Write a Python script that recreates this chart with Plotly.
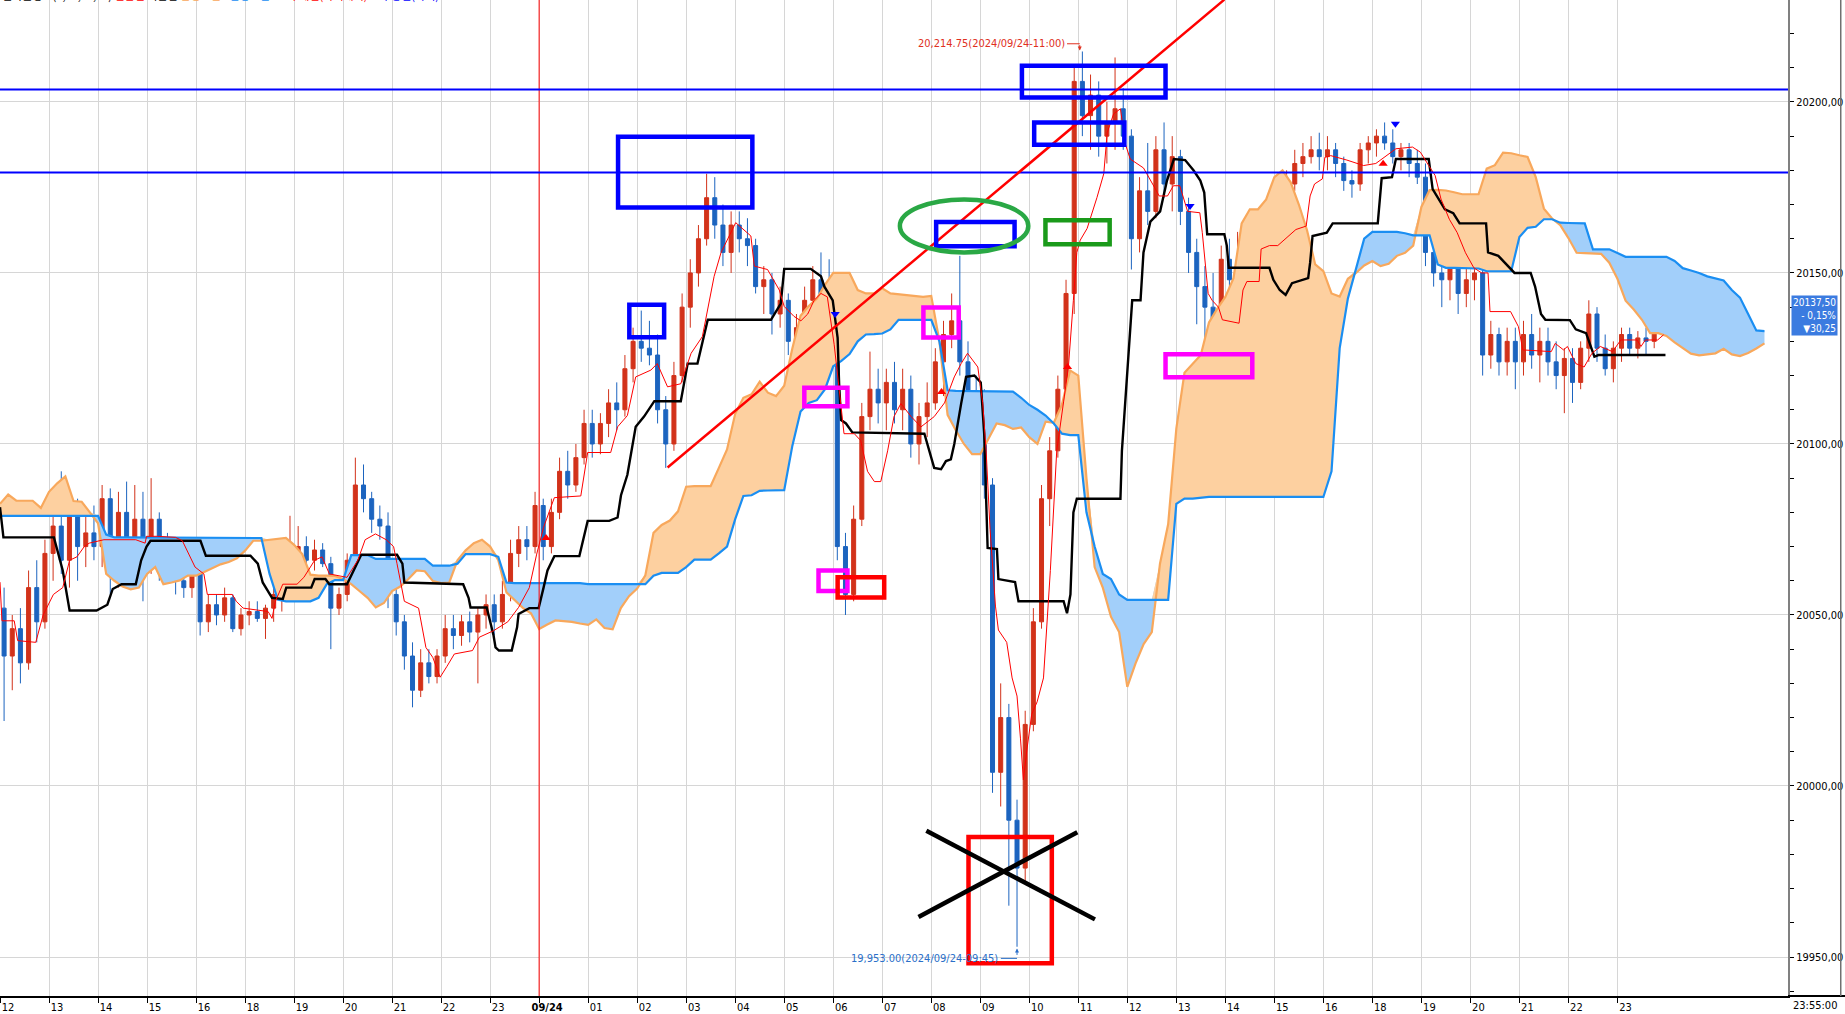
import numpy as np
import plotly.graph_objects as go

# 10-minute candles, 09/23 12:00 -> 09/24 23:50 (the 17:00 hour is closed)
opens = [
    20052, 20038, 20046, 20036, 20058, 20048,
    20068, 20076, 20066, 20080, 20070, 20074,
    20070, 20084, 20062, 20080, 20070, 20078,
    20064, 20078, 20066, 20062, 20060, 20058,
    20062, 20048, 20053, 20050, 20055, 20046,
    20050, 20051, 20049, 20052, 20056, 20062,
    20068, 20070, 20066, 20069, 20065, 20052,
    20056, 20066, 20088, 20084, 20078, 20076,
    20056, 20048, 20038, 20028, 20036, 20032,
    20038, 20046, 20044, 20048, 20045, 20050,
    20053, 20048, 20056, 20068, 20072, 20070,
    20082, 20070, 20080, 20092, 20088, 20096,
    20106, 20100, 20106, 20112, 20110, 20122,
    20130, 20128, 20126, 20110, 20100, 20120,
    20140, 20150, 20160, 20172, 20164, 20156,
    20164, 20160, 20158, 20146, 20148, 20138,
    20142, 20130, 20134, 20142, 20148, 20140,
    20134, 20070, 20056, 20078, 20108, 20116,
    20112, 20118, 20110, 20116, 20100, 20108,
    20112, 20124, 20132, 20136, 20124, 20112,
    20104, 20088, 20004, 20020, 19990, 19976,
    20018, 20048, 20084, 20098, 20116, 20144,
    20206, 20196, 20202, 20190, 20194, 20198,
    20190, 20160, 20174, 20168, 20186, 20176,
    20184, 20168, 20156, 20146, 20140, 20136,
    20154, 20148, 20152, 20150, 20154, 20160,
    20168, 20158, 20176, 20182, 20184, 20186,
    20184, 20186, 20182, 20177, 20176, 20186,
    20188, 20190, 20188, 20184, 20186, 20182,
    20178, 20156, 20150, 20148, 20152, 20144,
    20148, 20150, 20126, 20132, 20124, 20130,
    20124, 20132, 20126, 20130, 20124, 20120,
    20125, 20118, 20128, 20138, 20128, 20122,
    20128, 20132, 20128, 20131, 20130, 20139,
]
highs = [
    20058, 20050, 20052, 20063, 20066, 20072,
    20080, 20092, 20086, 20084, 20080, 20082,
    20088, 20087, 20086, 20089, 20088, 20086,
    20090, 20080, 20074, 20068, 20064, 20066,
    20064, 20056, 20056, 20058, 20056, 20052,
    20054, 20054, 20053, 20058, 20064, 20079,
    20076, 20073, 20072, 20071, 20067, 20058,
    20068, 20096, 20094, 20086, 20082, 20080,
    20060, 20050, 20042, 20040, 20040, 20040,
    20050, 20050, 20050, 20051, 20052, 20056,
    20056, 20060, 20072, 20076, 20076, 20086,
    20084, 20084, 20096, 20098, 20100, 20110,
    20110, 20109, 20116, 20118, 20126, 20134,
    20139, 20136, 20132, 20114, 20124, 20144,
    20154, 20164, 20179, 20178, 20170, 20168,
    20168, 20166, 20160, 20152, 20150, 20146,
    20144, 20138, 20146, 20152, 20156, 20154,
    20140, 20074, 20082, 20112, 20127, 20122,
    20122, 20124, 20122, 20120, 20112, 20118,
    20128, 20136, 20144, 20155, 20130, 20120,
    20116, 20090, 20030, 20024, 19996, 20022,
    20052, 20088, 20102, 20120, 20148, 20210,
    20214.75, 20208, 20206, 20200, 20213, 20204,
    20192, 20178, 20188, 20190, 20194, 20190,
    20186, 20172, 20160, 20152, 20150, 20158,
    20160, 20162, 20160, 20158, 20166, 20174,
    20176, 20180, 20186, 20188, 20190, 20191,
    20190, 20188, 20184, 20180, 20188, 20190,
    20192, 20194, 20192, 20188, 20188, 20186,
    20182, 20158, 20156, 20154, 20154, 20152,
    20152, 20152, 20136, 20134, 20134, 20134,
    20136, 20138, 20134, 20134, 20130, 20128,
    20128, 20130, 20142, 20140, 20132, 20130,
    20134, 20134, 20133, 20134, 20141, 20141,
]
lows = [
    20019, 20028, 20030, 20034, 20042, 20046,
    20060, 20062, 20058, 20060, 20064, 20066,
    20064, 20056, 20058, 20066, 20060, 20054,
    20062, 20060, 20060, 20056, 20055, 20055,
    20044, 20045, 20047, 20048, 20045, 20044,
    20047, 20048, 20043, 20048, 20051, 20060,
    20062, 20064, 20063, 20064, 20040, 20050,
    20054, 20064, 20080, 20074, 20072, 20052,
    20044, 20034, 20023, 20026, 20030, 20030,
    20036, 20040, 20041, 20042, 20030, 20046,
    20044, 20046, 20054, 20064, 20066, 20068,
    20066, 20068, 20078, 20084, 20086, 20094,
    20096, 20097, 20102, 20104, 20108, 20118,
    20124, 20123, 20106, 20093, 20098, 20118,
    20134, 20146, 20158, 20160, 20152, 20150,
    20156, 20152, 20144, 20138, 20132, 20134,
    20126, 20123, 20130, 20138, 20126, 20128,
    20066, 20050, 20054, 20076, 20104, 20106,
    20104, 20106, 20104, 20096, 20094, 20102,
    20110, 20114, 20128, 20120, 20106, 20100,
    20084, 19998, 19994, 19965, 19953, 19972,
    20016, 20046, 20076, 20096, 20114, 20138,
    20190, 20186, 20184, 20182, 20186, 20186,
    20151, 20156, 20164, 20166, 20172, 20168,
    20164, 20150, 20135, 20109, 20130, 20132,
    20138, 20144, 20140, 20144, 20148, 20140,
    20150, 20156, 20174, 20178, 20182, 20180,
    20180, 20178, 20174, 20172, 20174, 20182,
    20184, 20186, 20182, 20180, 20178, 20176,
    20152, 20146, 20140, 20142, 20138, 20140,
    20142, 20120, 20122, 20120, 20120, 20116,
    20120, 20122, 20118, 20120, 20116, 20109,
    20112, 20116, 20124, 20124, 20120, 20118,
    20124, 20126, 20125, 20126, 20128, 20136,
]
closes = [
    20038, 20046, 20036, 20058, 20048, 20068,
    20076, 20066, 20080, 20070, 20074, 20070,
    20084, 20062, 20080, 20070, 20078, 20064,
    20078, 20066, 20062, 20060, 20058, 20062,
    20048, 20053, 20050, 20055, 20046, 20050,
    20051, 20049, 20052, 20056, 20062, 20068,
    20070, 20066, 20069, 20065, 20052, 20056,
    20066, 20088, 20084, 20078, 20076, 20056,
    20048, 20038, 20028, 20036, 20032, 20038,
    20046, 20044, 20048, 20045, 20050, 20053,
    20048, 20056, 20068, 20072, 20070, 20082,
    20070, 20080, 20092, 20088, 20096, 20106,
    20100, 20106, 20112, 20110, 20122, 20130,
    20128, 20126, 20110, 20100, 20120, 20140,
    20150, 20160, 20172, 20164, 20156, 20164,
    20160, 20158, 20146, 20148, 20138, 20142,
    20130, 20134, 20142, 20148, 20140, 20134,
    20070, 20056, 20078, 20108, 20116, 20112,
    20118, 20110, 20116, 20100, 20108, 20112,
    20124, 20132, 20136, 20124, 20112, 20104,
    20088, 20004, 20020, 19990, 19976, 20018,
    20048, 20084, 20098, 20116, 20144, 20206,
    20196, 20202, 20190, 20194, 20198, 20190,
    20160, 20174, 20168, 20186, 20176, 20184,
    20168, 20156, 20146, 20140, 20136, 20154,
    20148, 20152, 20150, 20154, 20160, 20168,
    20158, 20176, 20182, 20184, 20186, 20184,
    20186, 20182, 20177, 20176, 20186, 20188,
    20190, 20188, 20184, 20186, 20182, 20178,
    20156, 20150, 20148, 20152, 20144, 20148,
    20150, 20126, 20132, 20124, 20130, 20124,
    20132, 20126, 20130, 20124, 20120, 20125,
    20118, 20128, 20138, 20128, 20122, 20128,
    20132, 20128, 20131, 20130, 20139, 20137.5,
]

# leading spans, one value every 10 minutes, running 2 hours past the last bar
span_a = [
    20079, 20079, 20079, 20079, 20079, 20079,
    20079, 20079, 20079, 20079, 20079, 20079,
    20079, 20073.5, 20072.7, 20072.7, 20072.7, 20072.7,
    20072.7, 20072.7, 20072.7, 20072.7, 20072.7, 20072.7,
    20072.7, 20072.7, 20072.7, 20072.7, 20072.7, 20072.7,
    20072.7, 20072.6, 20072.5, 20062, 20054.5, 20054,
    20054, 20054, 20054, 20055, 20059, 20060.2,
    20060.2, 20067.5, 20067.5, 20067.5, 20066.4, 20066.4,
    20066.4, 20066.4, 20066.4, 20066.4, 20066.4, 20064.4,
    20064.4, 20064.4, 20065, 20067.8, 20067.8, 20067.8,
    20067.8, 20067, 20059.5, 20059.3, 20059.3, 20059.3,
    20059.3, 20059.3, 20059.3, 20059.3, 20059.3, 20059.3,
    20059, 20059, 20059, 20059, 20059, 20059,
    20059, 20059, 20061.5, 20062.3, 20062.3, 20062.3,
    20064, 20066.2, 20066.2, 20066.2, 20068, 20070,
    20078, 20084.8, 20085, 20086.3, 20086.4, 20086.5,
    20086.5, 20099.5, 20109.5, 20112, 20112.8, 20116,
    20122.7, 20124.3, 20126.3, 20130, 20132, 20132.1,
    20132.3, 20133.5, 20136.3, 20136.3, 20136.3, 20136.3,
    20136.3, 20130, 20115.7, 20115.5, 20115.5, 20115.5,
    20115.3, 20115.3, 20115.3, 20115.3, 20115.3, 20113.5,
    20111.4, 20110, 20108.3, 20106, 20103, 20102.6,
    20102.6, 20080, 20070, 20062, 20060.5, 20056,
    20054.4, 20054.4, 20054.4, 20054.4, 20054.4, 20054.4,
    20082.5, 20084, 20084, 20084.3, 20084.5, 20084.5,
    20084.5, 20084.5, 20084.5, 20084.5, 20084.5, 20084.5,
    20084.5, 20084.5, 20084.5, 20084.5, 20084.5, 20084.5,
    20084.5, 20092, 20128, 20142.5, 20151, 20160,
    20162, 20162, 20162, 20162, 20161.6, 20161,
    20161, 20161, 20152.5, 20151.5, 20151.5, 20151.5,
    20151.5, 20151.3, 20150.5, 20150.5, 20150.5, 20150.5,
    20160.5, 20163.2, 20163.5, 20165.7, 20165.7, 20164.7,
    20164.6, 20164.5, 20164.5, 20156.9, 20156.9, 20156.9,
    20155.8, 20154.7, 20154.7, 20154.7, 20154.7, 20154.7,
    20154.7, 20153.5, 20151.4, 20150.7, 20150, 20149,
    20148.5, 20147.8, 20145, 20142.8, 20138, 20133.2,
    20133,
]
span_b = [
    20082.5, 20085.2, 20083.4, 20083.4, 20083.4, 20081.3,
    20086, 20088.5, 20090.5, 20083.3, 20083.1, 20080,
    20076.8, 20062, 20060, 20058.3, 20057.5, 20058,
    20062, 20064, 20059, 20059.5, 20060.1, 20061.5,
    20061.5, 20062.6, 20063.7, 20064.8, 20065.5, 20066.6,
    20068.8, 20071.7, 20071.7, 20072, 20072.2, 20072.5,
    20070.5, 20067.8, 20061.8, 20061.5, 20061.5, 20061.4,
    20060.5, 20059, 20057, 20055, 20052.2, 20053.5,
    20057, 20058.3, 20060.5, 20063, 20062.8, 20059.9,
    20059.3, 20059.5, 20066, 20068.9, 20071, 20072,
    20070, 20066, 20056.6, 20054.4, 20052.1, 20050.5,
    20045.9, 20047.2, 20048.4, 20048.2, 20048, 20047.5,
    20047.1, 20048.7, 20046.2, 20045.8, 20052, 20055.5,
    20057.7, 20061.6, 20074, 20076.3, 20077.6, 20080.3,
    20087.5, 20087.7, 20087.7, 20087.7, 20093, 20098.4,
    20108.8, 20113.5, 20114.5, 20118.2, 20115, 20114,
    20117, 20128, 20137.5, 20140.3, 20142.5, 20146.6,
    20150, 20150, 20150, 20145, 20144, 20144,
    20145.5, 20144, 20143.8, 20143.5, 20143.2, 20143,
    20143.3, 20130, 20108.5, 20104, 20100, 20097,
    20097, 20101.5, 20106, 20105.5, 20104.4, 20104.8,
    20102, 20100, 20106.5, 20106.2, 20111.5, 20121.5,
    20120, 20090, 20064, 20058, 20049.5, 20045,
    20029, 20035.8, 20041.5, 20045, 20065, 20076.5,
    20104.5, 20120.8, 20123.3, 20126, 20135.5, 20139.5,
    20143, 20148.5, 20164.5, 20168.6, 20168.6, 20171.5,
    20178, 20180, 20176.5, 20170, 20162.5, 20152.5,
    20150.5, 20144, 20143.1, 20148.3, 20150, 20152.2,
    20153.5, 20152, 20152.7, 20155, 20155.9, 20158,
    20169.3, 20174.2, 20174.3, 20174.1, 20173.6, 20173,
    20173, 20173, 20180.5, 20181.5, 20185.2, 20185,
    20184.4, 20183.9, 20178, 20168.8, 20165.9, 20164,
    20160.2, 20155.9, 20155.8, 20155.7, 20155.6, 20153,
    20148.3, 20141.9, 20139.3, 20136.3, 20132.4, 20132.4,
    20131.6, 20129.7, 20128, 20126.4, 20125.9, 20126.3,
    20126.5, 20127.8, 20126.2, 20125.7, 20126.6, 20127.9,
    20129.4,
]

# base line / conversion line vertices (hour index, price)
kijun_pts = [
    (0, 20081.5), (0.07, 20072.7), (1.1, 20072.7), (1.28, 20063), (1.42, 20051.3),
    (1.97, 20051.3), (2.19, 20053), (2.3, 20057.6), (2.48, 20059), (2.77, 20059),
    (2.88, 20066), (2.99, 20070), (3.07, 20071.7), (4.09, 20071.7), (4.2, 20067.3),
    (5.11, 20067.3), (5.26, 20065), (5.36, 20059.5), (5.55, 20055), (5.77, 20054.7),
    (5.84, 20058), (6.35, 20058), (6.42, 20060.5), (6.64, 20060.5), (6.72, 20059),
    (7.08, 20059), (7.37, 20067.6), (8.1, 20067.6), (8.21, 20065), (8.25, 20059.5),
    (9.45, 20059), (9.56, 20055), (9.6, 20052.2), (9.93, 20052.2), (10.07, 20044),
    (10.11, 20040.5), (10.18, 20039.6), (10.44, 20039.6), (10.55, 20046.4), (10.58, 20050.3),
    (10.8, 20052), (10.99, 20052), (11.09, 20058), (11.17, 20063), (11.31, 20067.2),
    (11.82, 20067.2), (11.99, 20077.5), (12.43, 20077.5), (12.6, 20078.5), (12.67, 20085),
    (12.8, 20091), (12.97, 20105), (13.14, 20108), (13.35, 20112.5), (13.89, 20112.5),
    (14.03, 20123.5), (14.23, 20123.5), (14.44, 20136.3), (15.73, 20136.3), (15.93, 20141),
    (16.0, 20151.2), (16.54, 20151.2), (16.75, 20149), (16.82, 20146), (16.99, 20142),
    (17.09, 20131), (17.12, 20117.6), (17.16, 20107), (17.26, 20106), (17.39, 20103.4),
    (18.86, 20103), (19.06, 20093), (19.2, 20092.6), (19.3, 20095), (19.4, 20095.5),
    (19.47, 20100), (19.61, 20111.8), (19.71, 20119.6), (19.88, 20120), (20.01, 20118),
    (20.08, 20103), (20.15, 20069.6), (20.34, 20069.3), (20.37, 20060.5), (20.71, 20059.6),
    (20.78, 20054), (21.7, 20054), (21.77, 20050.5), (21.84, 20056), (21.9, 20080),
    (21.97, 20084), (22.86, 20084), (22.89, 20098), (22.99, 20120), (23.1, 20142),
    (23.27, 20142), (23.33, 20156), (23.47, 20165), (23.67, 20168), (23.81, 20177),
    (23.95, 20183.3), (24.18, 20183), (24.35, 20180), (24.49, 20177), (24.57, 20173.5),
    (24.63, 20161.3), (24.98, 20161.3), (25.03, 20158), (25.07, 20151.5), (25.9, 20151.5),
    (25.98, 20148), (26.11, 20145), (26.23, 20143.6), (26.36, 20147), (26.69, 20148.5),
    (26.73, 20153), (26.78, 20160.8), (27.07, 20161.8), (27.19, 20164.5), (28.11, 20164.5),
    (28.15, 20171), (28.19, 20177.7), (28.4, 20178), (28.48, 20183.3), (29.15, 20183.3),
    (29.23, 20174.5), (29.48, 20168.6), (29.65, 20167.5), (29.78, 20164.5), (30.32, 20164.5),
    (30.36, 20156), (30.57, 20155), (30.9, 20150), (31.23, 20150), (31.32, 20146),
    (31.44, 20138), (31.53, 20136.3), (32.03, 20136.2), (32.15, 20133.5), (32.36, 20132.4),
    (32.53, 20125.5), (32.61, 20126), (33.98, 20126),
]
tenkan_pts = [
    (0, 20059.6), (0.04, 20048.3), (0.29, 20048.3), (0.36, 20042.5), (0.73, 20042),
    (0.88, 20050), (1.09, 20056), (1.28, 20058), (1.42, 20066), (1.57, 20067),
    (1.72, 20070), (1.82, 20071), (2.12, 20072), (2.77, 20072), (2.96, 20071),
    (2.99, 20073), (3.21, 20073), (3.58, 20072.7), (3.72, 20071.7), (3.87, 20067),
    (3.98, 20064), (4.16, 20062), (4.23, 20056), (4.74, 20056), (4.82, 20054),
    (4.96, 20052), (5.47, 20051), (5.55, 20049), (5.62, 20054), (5.77, 20059),
    (6.06, 20059), (6.2, 20061), (6.42, 20066), (6.57, 20067), (6.72, 20062),
    (7.08, 20061), (7.3, 20066), (7.45, 20072), (7.66, 20073.7), (7.88, 20072),
    (8.03, 20070), (8.1, 20065), (8.25, 20054), (8.54, 20052), (8.69, 20040.5),
    (8.83, 20037.6), (8.98, 20031.8), (9.12, 20035), (9.27, 20038.6), (9.64, 20039.6),
    (9.78, 20043.5), (10.07, 20045.4), (10.36, 20048), (10.58, 20052.2), (10.8, 20058),
    (10.95, 20067.8), (11.09, 20075.6), (11.31, 20084.3), (11.85, 20084.8), (11.99, 20097.5),
    (12.46, 20097.5), (12.6, 20105), (12.8, 20108.3), (12.97, 20119.6), (13.28, 20121.6),
    (13.41, 20123.5), (13.62, 20116.7), (13.89, 20117.6), (14.1, 20126.5), (14.33, 20131.4),
    (14.44, 20139), (14.57, 20149), (14.71, 20155.9), (14.84, 20159.8), (15.01, 20164.7),
    (15.32, 20160.8), (15.39, 20152), (15.66, 20151), (15.9, 20145), (16.0, 20140.2),
    (16.2, 20137.3), (16.34, 20136), (16.48, 20138), (16.61, 20142), (16.75, 20144),
    (16.88, 20143), (17.02, 20129), (17.16, 20111), (17.22, 20103), (17.43, 20103),
    (17.56, 20101), (17.7, 20092), (17.84, 20089), (17.97, 20089), (18.11, 20098),
    (18.24, 20108), (18.38, 20111.8), (18.59, 20108), (18.79, 20105), (19.06, 20108),
    (19.27, 20112), (19.47, 20119.6), (19.61, 20123.5), (19.74, 20126.5), (19.95, 20122.5),
    (20.05, 20112), (20.12, 20098), (20.2, 20075), (20.31, 20052.6), (20.37, 20045.6),
    (20.44, 20044), (20.54, 20042), (20.65, 20031.6), (20.75, 20026.3), (20.82, 20014),
    (20.88, 20001.8), (20.95, 20010.5), (21.05, 20021), (21.16, 20024.6), (21.29, 20031.6),
    (21.43, 20063), (21.56, 20098), (21.7, 20112.3), (21.8, 20122.8), (21.9, 20142),
    (21.97, 20156), (22.04, 20159.6), (22.18, 20163), (22.38, 20172), (22.52, 20179),
    (22.59, 20191), (22.72, 20196.5), (22.86, 20198), (22.96, 20187.7), (23.06, 20183.3),
    (23.33, 20180.7), (23.54, 20175.4), (23.65, 20172.5), (23.82, 20172.5), (23.94, 20175.5),
    (24.07, 20175.5), (24.23, 20168), (24.48, 20167.6), (24.53, 20161.8), (24.65, 20144),
    (24.73, 20142), (24.86, 20140), (24.94, 20136.3), (25.28, 20135.3), (25.36, 20145),
    (25.44, 20147.5), (25.69, 20147.5), (25.73, 20157), (25.9, 20158), (26.07, 20158),
    (26.32, 20161.3), (26.44, 20162.7), (26.65, 20163.7), (26.73, 20172.5), (26.82, 20176),
    (26.98, 20177.5), (27.03, 20183.8), (27.15, 20184.3), (27.48, 20183), (27.61, 20182.4),
    (27.82, 20181.4), (28.07, 20182), (28.28, 20184.3), (28.48, 20186.3), (28.82, 20186.8),
    (28.98, 20185.3), (29.15, 20181.4), (29.28, 20178.5), (29.4, 20171.6), (29.57, 20165.7),
    (29.73, 20161.8), (29.9, 20155.9), (30.07, 20151.5), (30.23, 20150), (30.36, 20150),
    (30.4, 20138.7), (30.82, 20138.7), (30.98, 20134.3), (31.07, 20127.5), (31.65, 20127),
    (31.73, 20129.4), (31.9, 20127.5), (31.98, 20128.5), (32.15, 20123.5), (32.32, 20122.5),
    (32.48, 20126.5), (32.65, 20128.5), (32.9, 20127), (33.07, 20130.4), (33.4, 20130.4),
    (33.48, 20128.5), (33.57, 20130.4), (33.82, 20130.4), (33.94, 20131.9),
]

signal_up = [(11.14, 20072.5), (19.21, 20115.2), (21.78, 20122.5), (28.22, 20181.9)]
signal_down = [(17.04, 20138.0), (24.28, 20169.6), (28.47, 20193.6)]

hour_labels = ["12", "13", "14", "15", "16", "18", "19", "20", "21", "22", "23",
               "<b>09/24</b>", "01", "02", "03", "04", "05", "06", "07", "08", "09",
               "10", "11", "12", "13", "14", "15", "16", "18", "19", "20", "21", "22", "23"]
y_ticks = [19950, 20000, 20050, 20100, 20150, 20200]
hline_prices = [20203.6, 20179.4]
last_price = 20137.5
high_price, high_time = 20214.75, "2024/09/24-11:00"
low_price, low_time = 19953.00, "2024/09/24-09:45"

RED = "#d2321a"
BLUE = "#1c64bf"
SPAN_A = "#1a8ef2"
SPAN_B = "#f8a85c"

bar_h = [i / 6 + 1 / 12 for i in range(len(closes))]
cloud_h = [i / 6 for i in range(len(span_a))]
a = np.array(span_a)
b = np.array(span_b)
top = np.maximum(a, b)

fig = go.Figure()

# cloud: blue where span A is on top, orange where span B is on top
fig.add_trace(go.Scatter(x=cloud_h, y=b, mode="lines", line=dict(width=0), hoverinfo="skip"))
fig.add_trace(go.Scatter(x=cloud_h, y=top, mode="lines", line=dict(width=0),
                         fill="tonexty", fillcolor="#a2cffa", hoverinfo="skip"))
fig.add_trace(go.Scatter(x=cloud_h, y=a, mode="lines", line=dict(width=0), hoverinfo="skip"))
fig.add_trace(go.Scatter(x=cloud_h, y=top, mode="lines", line=dict(width=0),
                         fill="tonexty", fillcolor="#fdd0a0", hoverinfo="skip"))
fig.add_trace(go.Scatter(x=cloud_h, y=span_b, mode="lines", line=dict(color=SPAN_B, width=2.2)))
fig.add_trace(go.Scatter(x=cloud_h, y=span_a, mode="lines", line=dict(color=SPAN_A, width=2.2)))

fig.add_trace(go.Scatter(x=[p[0] for p in kijun_pts], y=[p[1] for p in kijun_pts],
                         mode="lines", line=dict(color="black", width=2.4)))

fig.add_trace(go.Candlestick(
    x=bar_h, open=opens, high=highs, low=lows, close=closes,
    increasing=dict(line=dict(color=RED, width=1), fillcolor=RED),
    decreasing=dict(line=dict(color=BLUE, width=1), fillcolor=BLUE),
    whiskerwidth=0,
))

fig.add_trace(go.Scatter(x=[p[0] for p in tenkan_pts], y=[p[1] for p in tenkan_pts],
                         mode="lines", line=dict(color="#ff0000", width=1)))

fig.add_trace(go.Scatter(x=[p[0] for p in signal_up], y=[p[1] for p in signal_up], mode="markers",
                         marker=dict(symbol="triangle-up", size=8, color="#ff0000")))
fig.add_trace(go.Scatter(x=[p[0] for p in signal_down], y=[p[1] for p in signal_down], mode="markers",
                         marker=dict(symbol="triangle-down", size=8, color="#0000ff")))


def box(x0, x1, y0, y1, color, kind="rect"):
    return dict(type=kind, xref="x", yref="y", x0=x0, x1=x1, y0=y0, y1=y1,
                line=dict(color=color, width=4.5), fillcolor="rgba(0,0,0,0)")


def seg(x0, y0, x1, y1, color, width):
    return dict(type="line", xref="x", yref="y", x0=x0, y0=y0, x1=x1, y1=y1,
                line=dict(color=color, width=width))


shapes = [
    dict(type="line", xref="x", yref="paper", x0=11, x1=11, y0=0, y1=1,
         line=dict(color="#ff0000", width=1)),
]
for p in hline_prices:
    shapes.append(dict(type="line", xref="paper", yref="y", x0=0, x1=1, y0=p, y1=p,
                       line=dict(color="#0000ff", width=2)))
shapes += [
    seg(13.62, 20093.1, 24.98, 20229.9, "#ff0000", 2.5),
    box(12.61, 15.35, 20169.1, 20189.8, "#0000ff"),
    box(12.84, 13.55, 20131.2, 20140.7, "#0000ff"),
    box(19.1, 20.7, 20157.8, 20164.9, "#0000ff"),
    box(20.85, 23.78, 20201.3, 20210.6, "#0000ff"),
    box(21.1, 22.94, 20187.5, 20194.0, "#0000ff"),
    box(16.41, 17.29, 20111.0, 20116.4, "#ff00ff"),
    box(18.84, 19.56, 20131.1, 20139.9, "#ff00ff"),
    box(16.7, 17.29, 20057.0, 20063.0, "#ff00ff"),
    box(23.78, 25.55, 20119.5, 20126.2, "#ff00ff"),
    box(17.09, 18.04, 20055.1, 20061.0, "#ff0000"),
    box(19.76, 21.46, 19948.2, 19985.1, "#ff0000"),
    box(21.33, 22.64, 20158.4, 20165.4, "#1a9a1a"),
    box(18.36, 20.98, 20156.0, 20171.5, "#2aa845", kind="circle"),
    seg(18.9, 19986.9, 22.34, 19961.0, "black", 4.5),
    seg(18.74, 19961.7, 21.98, 19986.5, "black", 4.5),
    seg(21.77, 20217.0, 22.03, 20217.0, "#e0301e", 1),
    seg(20.42, 19949.6, 20.75, 19949.6, "#2a6fc9", 1),
    # axis line runs on under the price scale, thin frame at the far right
    dict(type="line", xref="paper", yref="paper", x0=1, x1=1.035, y0=0, y1=0,
         line=dict(color="black", width=2)),
    dict(type="line", xref="paper", yref="paper", x0=1.0295, x1=1.0295, y0=0, y1=1,
         line=dict(color="#707070", width=1.5)),
]

label_font = "Liberation Sans Narrow, DejaVu Sans Condensed, Roboto Condensed, Liberation Sans, Arial"
legend_text = (
    '<span style="color:black">일목균형표(9,26,52,26)</span> '
    '<span style="color:#ff0000">전환선</span> '
    '<span style="color:black">기준선</span> '
    f'<span style="color:{SPAN_B}">선행스팬1</span> '
    f'<span style="color:{SPAN_A}">선행스팬2</span> '
    '<span style="color:#aaaaaa">■</span><span style="color:#ff0000">추세선(가격대비)</span> '
    '<span style="color:#aaaaaa">■</span><span style="color:#0000ff">수평선(가격)</span>'
)

annotations = [
    dict(xref="paper", yref="paper", x=0, y=1, xanchor="left", yanchor="bottom", yshift=-5,
         text=legend_text, showarrow=False, font=dict(size=11, family="Noto Sans CJK KR")),
    dict(xref="x", yref="y", x=21.76, y=20217.0, xanchor="right", yanchor="middle",
         text=f"{high_price:,.2f}({high_time})", showarrow=False,
         font=dict(size=11, color="#e0301e", family=label_font)),
    dict(xref="x", yref="y", x=22.03, y=20215.0, ax=0, ay=-7, text="", showarrow=True,
         arrowhead=2, arrowsize=0.8, arrowwidth=1, arrowcolor="#e0301e"),
    dict(xref="x", yref="y", x=20.41, y=19949.6, xanchor="right", yanchor="middle",
         text=f"{low_price:,.2f}({low_time})", showarrow=False,
         font=dict(size=11, color="#2a6fc9", family=label_font)),
    dict(xref="x", yref="y", x=20.75, y=19952.5, ax=0, ay=8, text="", showarrow=True,
         arrowhead=2, arrowsize=0.8, arrowwidth=1, arrowcolor="#2a6fc9"),
    dict(xref="paper", yref="y", x=1, y=last_price, xanchor="left", yanchor="middle", xshift=3,
         text=f"{last_price:.2f}".replace(".", ",") + "<br>- 0,15%<br>▼30,25",
         showarrow=False, bgcolor="#3b7be0", borderpad=1, align="right",
         font=dict(size=10, color="white", family=label_font)),
    dict(xref="paper", yref="paper", x=1, y=0, xanchor="left", yanchor="top", xshift=3, yshift=-1,
         text="23:55:00", showarrow=False, font=dict(size=11, color="black", family=label_font)),
]

fig.update_layout(
    width=1845, height=1014,
    margin=dict(l=0, r=57, t=0, b=18),
    plot_bgcolor="white", paper_bgcolor="white",
    showlegend=False,
    shapes=shapes,
    annotations=annotations,
    font=dict(family=label_font, size=11, color="black"),
)
fig.update_xaxes(
    range=[0, 36.48], tickmode="array", tickvals=list(range(len(hour_labels))), ticktext=hour_labels,
    showgrid=True, gridcolor="#d6d6d6", gridwidth=1, zeroline=False,
    ticks="outside", ticklen=5, tickcolor="black", ticklabelshift=8, ticklabelstandoff=-5,
    tickfont=dict(size=11),
    showline=True, linecolor="black", linewidth=2,
    rangeslider=dict(visible=False), automargin=False,
)
fig.update_yaxes(
    range=[19938.6, 20229.8], side="right", tickmode="array", tickvals=y_ticks,
    ticktext=[f"{v:.2f}".replace(".", ",") for v in y_ticks],
    showgrid=True, gridcolor="#d6d6d6", gridwidth=1, zeroline=False,
    ticks="outside", ticklen=4, tickcolor="black", tickfont=dict(size=11),
    minor=dict(dtick=10, tick0=19950, ticks="outside", ticklen=4, tickcolor="black", showgrid=False),
    showline=True, linecolor="#808080", linewidth=2, automargin=False,
)

# the page's default body margin would push the figure past the window edge
fig.write_html("out.html", config={"displayModeBar": False},
               post_script="document.body.style.margin='0';document.body.style.overflow='hidden';")
